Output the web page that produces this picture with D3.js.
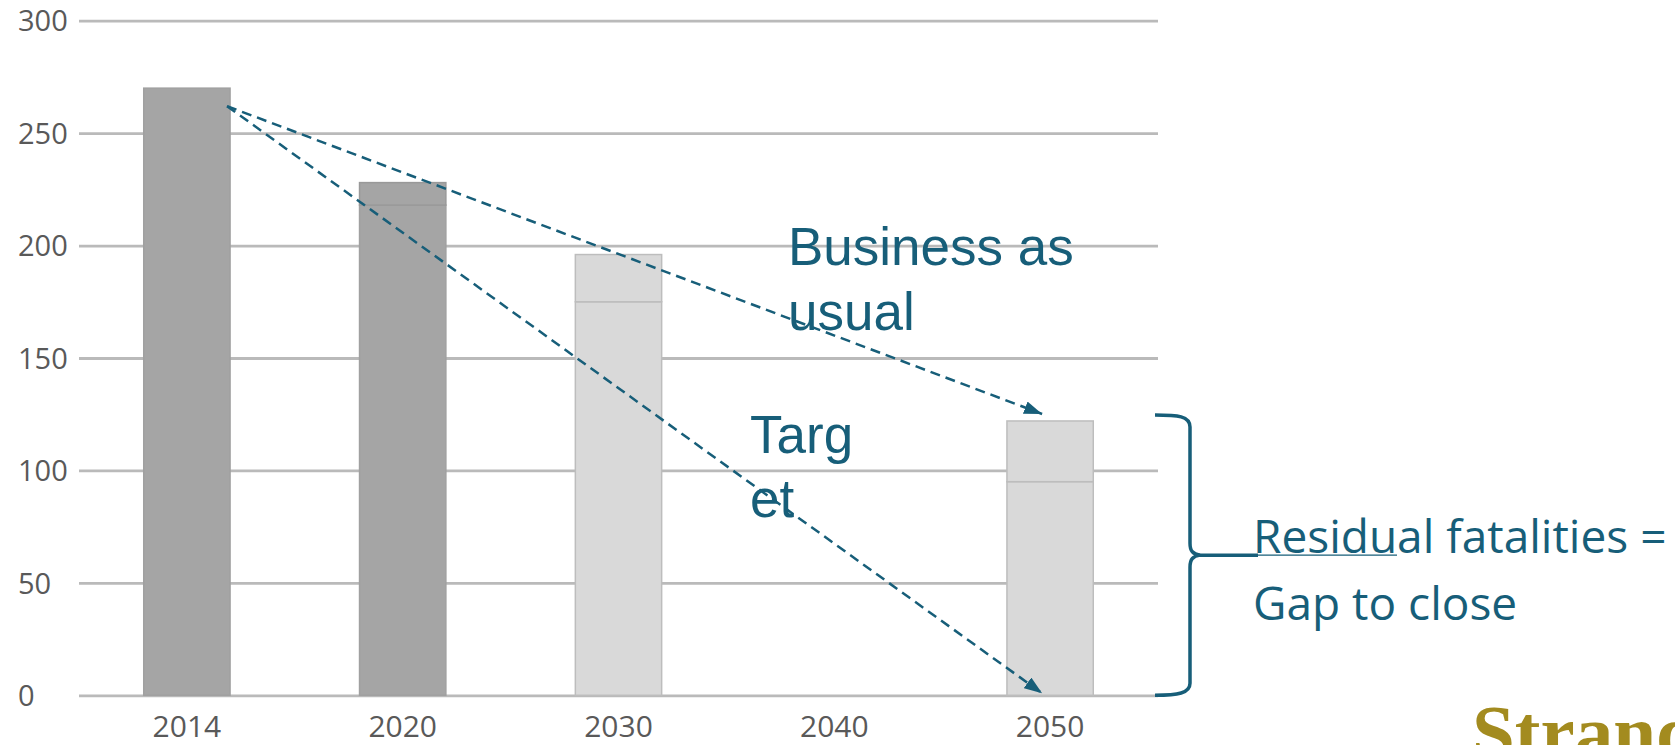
<!DOCTYPE html>
<html>
<head>
<meta charset="utf-8">
<script src="https://cdn.jsdelivr.net/npm/d3@7"></script>
<style>
  body { margin: 0; background: #fff; }
  svg { display: block; }
</style>
</head>
<body>
<script>
// road fatalities: actuals (2014, 2020) and projections (2030, 2050)
var years = ["2014", "2020", "2030", "2040", "2050"];
var bauValues = [270, 228, 196, null, 122];      // business as usual (bar top)
var targetValues = [270, 218, 175, null, 95];    // inner split line
var isProjection = [false, false, true, false, true];
var yTicks = [0, 50, 100, 150, 200, 250, 300];

var width = 1675;
var height = 745;
var teal = "#175e79";

var svg = d3.select("body")
        .append("svg")
        .attr("width", width)
        .attr("height", height);

var defs = svg.append("defs");
defs.append("marker")
    .attr("id", "head")
    .attr("markerUnits", "userSpaceOnUse")
    .attr("viewBox", "0 0 18 13")
    .attr("refX", 18)
    .attr("refY", 6.5)
    .attr("markerWidth", 18)
    .attr("markerHeight", 13)
    .attr("orient", "auto")
    .append("path")
    .attr("d", "M0,0 L18,6.5 L0,13 Z")
    .attr("fill", teal);

var x = d3.scaleBand()
        .domain(years)
        .range([79, 1158])
        .paddingInner(0.6)
        .paddingOuter(0.3);

var y = d3.scaleLinear()
        .domain([0, 300])
        .range([695.3, 20.7]);

// gridlines + y labels
var yAxis = svg.append("g")
        .attr("transform", "translate(79,0)")
        .call(d3.axisLeft(y).tickValues(yTicks).tickSize(-(1158 - 79)).tickFormat(d3.format("d")));
yAxis.select(".domain").remove();
yAxis.selectAll("line")
    .attr("stroke", "#bababa")
    .attr("stroke-width", 2.8);
yAxis.selectAll("text")
    .attr("x", 18 - 79)
    .attr("text-anchor", "start")
    .attr("dy", "0.35em")
    .style("font-family", "'Open Sans', sans-serif")
    .style("font-size", "29px")
    .style("fill", "#595959");

// x labels
var xAxis = svg.append("g")
        .attr("transform", "translate(0," + y(0) + ")")
        .call(d3.axisBottom(x).tickSize(0));
xAxis.select(".domain").remove();
xAxis.selectAll("text")
    .attr("y", 42)
    .attr("dy", 0)
    .style("font-family", "'Open Sans', sans-serif")
    .style("font-size", "30px")
    .style("fill", "#595959");

var rows = years.map(function(d, i) {
    return {year: d, bau: bauValues[i], target: targetValues[i], proj: isProjection[i]};
}).filter(function(d) { return d.bau !== null; });

var bars = svg.selectAll(".bar")
        .data(rows)
        .enter()
        .append("g")
        .attr("class", "bar");

// lower part: up to target
bars.append("rect")
    .attr("x", d => x(d.year))
    .attr("y", d => y(d.target))
    .attr("width", x.bandwidth())
    .attr("height", d => y(0) - y(d.target))
    .style("fill", d => d.proj ? "#d9d9d9" : "#a5a5a5")
    .style("stroke", d => d.proj ? "#bdbdbd" : "#a0a0a0")
    .style("stroke-width", 1.5);

// upper part: target to business as usual
bars.filter(d => d.bau > d.target)
    .append("rect")
    .attr("x", d => x(d.year))
    .attr("y", d => y(d.bau))
    .attr("width", x.bandwidth())
    .attr("height", d => y(d.target) - y(d.bau))
    .style("fill", d => d.proj ? "#d9d9d9" : "#a5a5a5")
    .style("stroke", d => d.proj ? "#bdbdbd" : "#999999")
    .style("stroke-width", 1.5);

// dashed arrows from 2014 to 2050
var x0 = x("2014") + x.bandwidth() - 3;
var x1 = x("2050") + x.bandwidth() / 2 - 8;
var arrows = [
    {y0: y(262), y1: y(bauValues[4]) - 7},
    {y0: y(262), y1: y(0) - 2}
];
svg.selectAll(".arrow")
    .data(arrows)
    .enter()
    .append("line")
    .attr("class", "arrow")
    .attr("x1", x0)
    .attr("y1", d => d.y0)
    .attr("x2", x1)
    .attr("y2", d => d.y1)
    .attr("stroke", teal)
    .attr("stroke-width", 2.5)
    .attr("stroke-dasharray", "10,6")
    .attr("marker-end", "url(#head)");

// bracket over the 2050 gap
var bt = y(bauValues[4]) - 6;
var bb = y(0);
var bm = (bt + bb) / 2;
svg.append("path")
    .attr("d", "M1155," + bt + " C1178," + bt + " 1190," + (bt + 1) + " 1190," + (bt + 12) +
               " L1190," + (bm - 12) + " C1190," + (bm - 4) + " 1193," + (bm - 1) + " 1200," + bm +
               " C1193," + (bm + 1) + " 1190," + (bm + 4) + " 1190," + (bm + 12) +
               " L1190," + (bb - 12) + " C1190," + (bb - 2) + " 1178," + bb + " 1155," + bb)
    .attr("fill", "none")
    .attr("stroke", teal)
    .attr("stroke-width", 3.5);
svg.append("line")
    .attr("x1", 1198).attr("x2", 1258)
    .attr("y1", bm).attr("y2", bm)
    .attr("stroke", teal)
    .attr("stroke-width", 3.5);
svg.append("line")
    .attr("x1", 1258).attr("x2", 1397)
    .attr("y1", bm).attr("y2", bm)
    .attr("stroke", teal)
    .attr("stroke-width", 1.3);

// annotations
function label(lines, px, py, gap, size, family) {
    var t = svg.append("text")
            .attr("x", px)
            .attr("y", py)
            .style("font-family", family)
            .style("font-size", size + "px")
            .style("fill", teal);
    lines.forEach(function(s, i) {
        t.append("tspan").attr("x", px).attr("y", py + i * gap).text(s);
    });
}
label(["Business as", "usual"], 788, 265, 65, 53, "'Liberation Sans', Arial, sans-serif");
label(["Targ", "et"], 750, 453, 64, 53, "'Liberation Sans', Arial, sans-serif");
label(["Residual fatalities =", "Gap to close"], 1253, 553, 67, 46, "'Open Sans', sans-serif");

svg.append("text")
    .attr("x", 1472)
    .attr("y", 758)
    .style("font-family", "'Liberation Serif', 'Times New Roman', serif")
    .style("font-weight", "bold")
    .style("font-size", "77px")
    .style("fill", "#a38b1f")
    .text("Strand");
</script>
</body>
</html>
